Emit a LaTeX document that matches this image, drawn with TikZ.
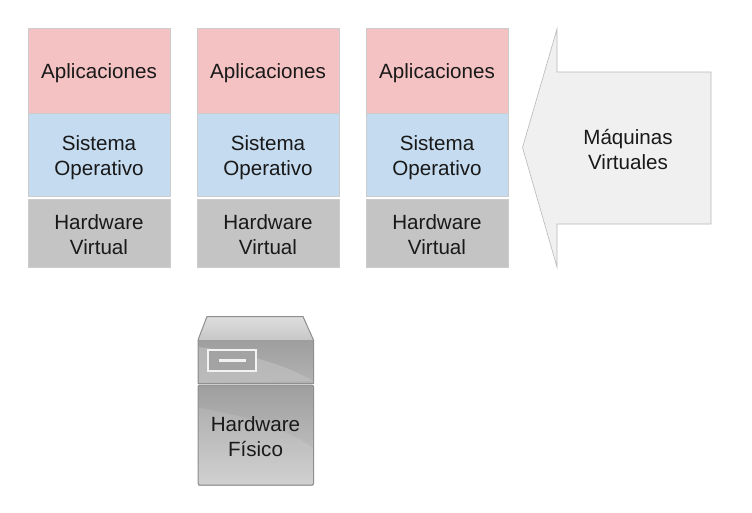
\documentclass[tikz,border=0pt]{standalone}
\usepackage{fontspec}
\setmainfont{Liberation Sans}
\definecolor{apfill}{HTML}{F4C2C2}
\definecolor{sofill}{HTML}{C5DBF0}
\definecolor{hwfill}{HTML}{C4C4C4}
\definecolor{edgeg}{HTML}{CCCCCC}
\definecolor{srvedge}{HTML}{8E8E8E}
\definecolor{arrowfill}{HTML}{F0F0F0}
\definecolor{arrowedge}{HTML}{B8B8B8}
\tikzset{
  x=1pt,y=-1pt,
  layer/.style={draw=edgeg,line width=.6pt,minimum width=142pt,inner sep=0pt,anchor=north west},
  apbox/.style={layer,fill=apfill,minimum height=84.5pt},
  sobox/.style={layer,fill=sofill,minimum height=83.5pt},
  hwbox/.style={layer,fill=hwfill,minimum height=68.5pt},
  lbl/.style={align=center,text=black!90,font=\fontsize{20.6pt}{25pt}\selectfont,inner sep=0pt},
  srvline/.style={draw=srvedge,line width=1pt,line join=round}
}
\begin{document}
\begin{tikzpicture}
\useasboundingbox (0,0) rectangle (752,512);
% stacks
\foreach \i/\x in {a/28,b/197,c/366}{
  \node[apbox] (ap\i) at (\x,28) {};
  \node[sobox] (so\i) at (\x,112.5) {};
  \node[hwbox] (hw\i) at (\x,198.5) {};
  \node[lbl] (apt\i) at (\x+71,73) {Aplicaciones};
  \node[lbl] (sot\i) at (\x+71,158) {Sistema\\Operativo};
  \node[lbl] (hwt\i) at (\x+71,235) {Hardware\\Virtual};
}
% arrow
\draw[draw=arrowedge,line width=.6pt,fill=arrowfill]
  (522.5,147.5) -- (557,29) -- (557,72) -- (711,72) -- (711,224) -- (557,224) -- (557,267) -- cycle;
\node[lbl] (mv) at (628,149.5) {Máquinas\\Virtuales};
% server
\shade[top color=black!13,bottom color=black!22]
  (207,316.5) -- (303,316.5) -- (313.5,340) -- (198,340) -- cycle;
\shade[top color=black!38,bottom color=black!30]
  (198,340) rectangle (313.5,383.5);
\fill[black!24,opacity=.6] (198.5,347) .. controls (240,352) and (285,364) .. (313,381) -- (198.5,383) -- cycle;
\draw[srvline] (198,340) -- (207,316.5) -- (303,316.5) -- (313.5,340) -- (313.5,383.5) -- (198,383.5) -- cycle;
\shade[top color=black!38,bottom color=black!20]
  (198,385) rectangle (313.5,485);
\fill[white,opacity=.10] (198.5,408) .. controls (240,414) and (285,428) .. (313,448) -- (313,484) -- (198.5,484) -- cycle;
\draw[srvline,rounded corners=1.5pt] (198,385) rectangle (313.5,485);
\draw[black!5,line width=2pt,fill=black!36] (208,349.5) rectangle (256,371);
\draw[black!5,line width=2.2pt] (218.5,360.5) -- (246,360.5);
\node[lbl] (hf) at (255.5,436.5) {Hardware\\Físico};
\end{tikzpicture}
\end{document}
